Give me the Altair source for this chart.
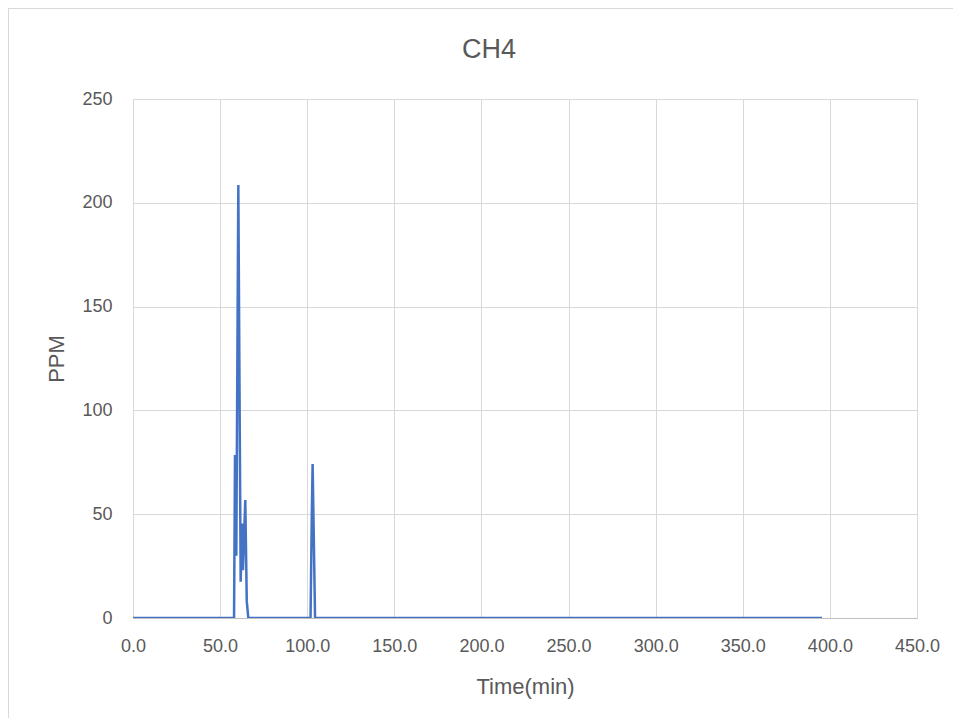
import altair as alt
import pandas as pd

# CH4 concentration (PPM) vs time (min)
time_min = [0.0, 57.5, 58.0, 58.55, 59.3, 60.45, 61.8, 62.55, 63.1, 64.45, 65.3, 66.2,
            101.9, 102.6, 103.1, 104.5, 395.5]
ppm = [0.0, 0.0, 0.0, 78.5, 30.0, 208.6, 17.5, 45.5, 23.0, 56.8, 8.0, 0.0,
       0.0, 48.0, 74.2, 0.0, 0.0]

x_ticks = [0, 50, 100, 150, 200, 250, 300, 350, 400, 450]
y_ticks = [0, 50, 100, 150, 200, 250]
chart_title = "CH4"

df = pd.DataFrame({"t": time_min, "ppm": ppm, "order": list(range(len(time_min)))})

FONT = "Liberation Sans"
GRAY = "#595959"
GRID = "#d9d9d9"

line = alt.Chart(df).mark_line(color="#4472C4", strokeWidth=2.5, clip=True).encode(
    x=alt.X("t:Q",
            scale=alt.Scale(domain=[0, 450], nice=False, zero=True),
            axis=alt.Axis(values=x_ticks, format=".1f", title="Time(min)",
                          grid=True, gridColor=GRID, gridWidth=1,
                          domain=True, domainColor="#bfbfbf", domainWidth=1,
                          ticks=False, tickSize=0, labelFlush=False,
                          labelFont=FONT, labelFontSize=18, labelColor=GRAY,
                          labelPadding=33, labelBaseline="alphabetic",
                          titleFont=FONT, titleFontSize=22, titleColor=GRAY,
                          titleFontWeight="normal", titleBaseline="alphabetic",
                          titleY=75)),
    y=alt.Y("ppm:Q",
            scale=alt.Scale(domain=[0, 250], nice=False),
            axis=alt.Axis(values=y_ticks, format="d", title="PPM",
                          grid=True, gridColor=GRID, gridWidth=1,
                          domain=False, ticks=False, tickSize=0, labelFlush=False,
                          labelFont=FONT, labelFontSize=18, labelColor=GRAY,
                          labelPadding=21,
                          titleFont=FONT, titleFontSize=22, titleColor=GRAY,
                          titleFontWeight="normal", titleAngle=270,
                          titleBaseline="alphabetic", titleAlign="center",
                          titleX=-70, titleY=259.5)),
    order="order:Q",
)

# chart frame (top and left edges of the outer border)
frame_top = alt.Chart(df).mark_rule(color=GRID, strokeWidth=1).encode(
    x=alt.value(-124.5), x2=alt.value(830), y=alt.value(-90.5))
frame_left = alt.Chart(df).mark_rule(color=GRID, strokeWidth=1).encode(
    x=alt.value(-124.5), y=alt.value(-90.5), y2=alt.value(620))

# chart title as a text mark
title = alt.Chart(pd.DataFrame({"label": [chart_title]})).mark_text(
    font=FONT, fontSize=27, color=GRAY, align="center", baseline="alphabetic"
).encode(text="label:N", x=alt.value(356), y=alt.value(-41))

chart = alt.layer(frame_top, frame_left, line, title).properties(
    width=784, height=519,
    autosize=alt.AutoSizeParams(type="none"),
    padding={"left": 125, "top": 91, "right": 36, "bottom": 100},
).configure_view(stroke=None).configure(background="white")

chart.save("out.html", embed_options={"renderer": "svg", "actions": False})
